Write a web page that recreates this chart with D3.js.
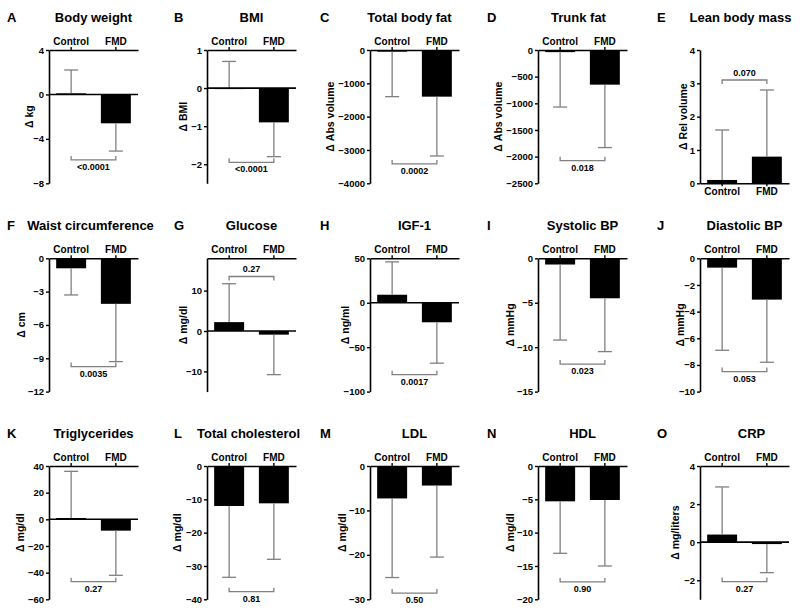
<!DOCTYPE html>
<html><head><meta charset="utf-8">
<script src="https://cdn.jsdelivr.net/npm/d3@7"></script>
<style>
body{margin:0;background:#fff}
text{font-family:"Liberation Sans",Arial,Helvetica,sans-serif;font-weight:bold;fill:#000}
</style>
</head><body>
<svg id="chart" width="800" height="608"></svg>
<script>
// ---------------- DATA ----------------
const panelLetters = ["A","B","C","D","E","F","G","H","I","J","K","L","M","N","O"];
const panelTitles = ["Body weight","BMI","Total body fat","Trunk fat","Lean body mass",
  "Waist circumference","Glucose","IGF-1","Systolic BP","Diastolic BP",
  "Triglycerides","Total cholesterol","LDL","HDL","CRP"];
const yAxisLabels = ["\u0394 kg","\u0394 BMI","\u0394 Abs volume","\u0394 Abs volume","\u0394 Rel volume",
  "\u0394 cm","\u0394 mg/dl","\u0394 ng/ml","\u0394 mmHg","\u0394 mmHg",
  "\u0394 mg/dl","\u0394 mg/dl","\u0394 mg/dl","\u0394 mg/dl","\u0394 mg/liters"];
const categories = ["Control","FMD"];
const yDomains = [[-8,4],[-2.5,1],[-4000,0],[-2500,0],[0,4],
  [-12,0],[-15,18],[-100,50],[-15,0],[-10,0],
  [-60,40],[-40,0],[-30,0],[-20,0],[-3,4]];
const yTickValues = [[4,0,-4,-8],[1,0,-1,-2],[0,-1000,-2000,-3000,-4000],[0,-500,-1000,-1500,-2000,-2500],[0,1,2,3,4],
  [0,-3,-6,-9,-12],[10,0,-10],[50,0,-50,-100],[0,-5,-10,-15],[0,-2,-4,-6,-8,-10],
  [40,20,0,-20,-40,-60],[0,-10,-20,-30,-40],[0,-10,-20,-30],[0,-5,-10,-15,-20],[4,2,0,-2]];
const controlMean = [0.1, 0.0, -50, -40, 0.1, -0.9, 2.2, 9, -0.7, -0.7, 1, -12, -7.3, -5.3, 0.4];
const controlSD   = [2.1, 0.7, 1350, 1030, 1.5, 2.4, 9.5, 37, 8.5, 6.2, 35, 21.4, 17.8, 7.8, 2.5];
const fmdMean     = [-2.6, -0.9, -1400, -650, 0.8, -4.1, -0.9, -22, -4.5, -3.1, -8.5, -11.2, -4.4, -5.1, -0.1];
const fmdSD       = [2.5, 0.9, 1780, 1180, 2.0, 5.2, 9.9, 46, 6.0, 4.7, 33.5, 16.8, 16.1, 9.9, 1.5];
const pValues = ["<0.0001","<0.0001","0.0002","0.018","0.070","0.0035","0.27","0.0017","0.023","0.053","0.27","0.81","0.50","0.90","0.27"];
const pBracketAt = [-5.9, -1.95, -3420, -2075, 3.1, -9.75, 13.5, -81, -11.9, -8.5, -46.8, -37.7, -28.6, -17.4, -2.07];

// ---------------- LAYOUT ----------------
const colAxisX = [49, 207, 370, 538, 700];
const colLetterX = [7, 174, 320, 487, 657];
const rowTop = [50, 258.3, 466];
const plotH = 133.3, plotW = 89;
const yLabelOffset = [20,24,40,40,17, 28,24,25,28,20, 29,30,28,28,25];
const titleShift = [0,0,-5,-4,-4, -3,0,0,0,0, 0,-3,0,0,7];
const grey = "#808080";

const svg = d3.select("#chart");
svg.append("rect").attr("width",800).attr("height",608).attr("fill","#fff");

panelLetters.forEach((letter, i) => {
  const col = i % 5, row = Math.floor(i / 5);
  const ax = colAxisX[col], top = rowTop[row];
  const g = svg.append("g").attr("transform", `translate(${ax},${top})`);

  const y = d3.scaleLinear().domain(yDomains[i]).range([plotH, 0]);
  const x = d3.scaleBand().domain(categories).range([0, plotW]).paddingInner(0.33).paddingOuter(0.16);

  const means = [controlMean[i], fmdMean[i]];
  const sds = [controlSD[i], fmdSD[i]];
  const data = categories.map((c, k) => ({cat: c, mean: means[k], sd: sds[k]}));

  // bars
  g.selectAll("rect.bar").data(data).enter().append("rect")
    .attr("class","bar")
    .attr("x", d => x(d.cat))
    .attr("width", x.bandwidth())
    .attr("y", d => Math.min(y(0), y(d.mean)))
    .attr("height", d => Math.max(1, Math.abs(y(d.mean) - y(0))))
    .attr("fill", "#000");

  // error bars (one-sided, away from zero)
  data.forEach(d => {
    const end = d.mean >= 0 ? d.mean + d.sd : d.mean - d.sd;
    const cx = x(d.cat) + x.bandwidth() / 2;
    g.append("line").attr("x1", cx).attr("x2", cx).attr("y1", y(d.mean)).attr("y2", y(end))
      .attr("stroke", grey).attr("stroke-width", 1.3);
    g.append("line").attr("x1", cx - 7).attr("x2", cx + 7).attr("y1", y(end)).attr("y2", y(end))
      .attr("stroke", grey).attr("stroke-width", 1.3);
  });

  // zero baseline
  const [dmin, dmax] = yDomains[i];
  if (dmin < 0 && dmax > 0) {
    g.append("line").attr("x1", 0).attr("x2", plotW).attr("y1", y(0)).attr("y2", y(0))
      .attr("stroke", "#000").attr("stroke-width", 1.6);
  }

  // y axis
  const yAxis = d3.axisLeft(y).tickValues(yTickValues[i]).tickSize(3).tickSizeOuter(0)
    .tickPadding(2).tickFormat(d3.format("d"));
  const ya = g.append("g").call(yAxis);
  ya.select(".domain").attr("stroke", "#000").attr("stroke-width", 1.6);
  ya.selectAll(".tick line").attr("stroke", "#000").attr("stroke-width", 1.4);
  ya.selectAll(".tick text").style("font-size", "9.5px").style("font-weight", "bold");

  // x axis (top, or bottom when domain starts at 0)
  const bottomAxis = dmin === 0;
  const xa = g.append("g").attr("transform", `translate(0,${bottomAxis ? plotH : 0})`)
    .call((bottomAxis ? d3.axisBottom(x) : d3.axisTop(x)).tickSize(3).tickSizeOuter(0).tickPadding(2));
  xa.select(".domain").attr("stroke", "#000").attr("stroke-width", 1.6);
  xa.selectAll(".tick line").attr("stroke", "#000").attr("stroke-width", 1.4);
  xa.selectAll(".tick text").style("font-size", "10px").style("font-weight", "bold");

  // y label
  g.append("text")
    .attr("transform", `translate(${-yLabelOffset[i]},${plotH / 2}) rotate(-90)`)
    .attr("text-anchor", "middle").attr("dy", "0.35em")
    .style("font-size", "10.5px").text(yAxisLabels[i]);

  // p-value bracket
  const c0 = x(categories[0]) + x.bandwidth() / 2;
  const c1 = x(categories[1]) + x.bandwidth() / 2;
  const by = y(pBracketAt[i]);
  const above = pBracketAt[i] > 0;
  const tk = above ? 4 : -4;
  g.append("path")
    .attr("d", `M${c0},${by + tk}V${by}H${c1}V${by + tk}`)
    .attr("fill", "none").attr("stroke", grey).attr("stroke-width", 1.3);
  g.append("text").attr("x", (c0 + c1) / 2).attr("y", above ? by - 4 : by + 10)
    .attr("text-anchor", "middle").style("font-size", "9px").text(pValues[i]);

  // title + letter
  svg.append("text").attr("x", ax + plotW / 2 + titleShift[i]).attr("y", top - 28.5)
    .attr("text-anchor", "middle").style("font-size", "13px").text(panelTitles[i]);
  svg.append("text").attr("x", colLetterX[col]).attr("y", top - 28.5)
    .style("font-size", "13px").text(letter);
});
</script>
</body></html>
